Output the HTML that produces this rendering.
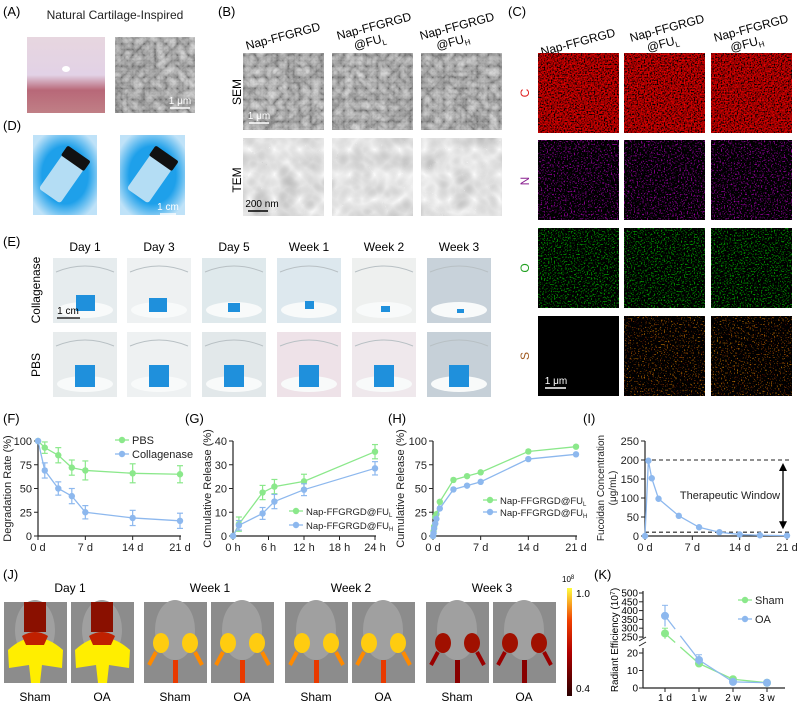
<!DOCTYPE html>
<html><head><meta charset="utf-8"><style>
html,body{margin:0;padding:0;background:#fff;}
svg{display:block;font-family:"Liberation Sans",Arial,sans-serif;}
</style></head><body>
<svg id="fig" width="797" height="705" viewBox="0 0 797 705" xmlns="http://www.w3.org/2000/svg">
<defs>
<filter id="semF" x="0" y="0" width="100%" height="100%"><feTurbulence type="turbulence" baseFrequency="0.09" numOctaves="3" seed="3"/><feColorMatrix type="matrix" values="0.33 0.33 0.33 0 0.1 0.33 0.33 0.33 0 0.1 0.33 0.33 0.33 0 0.1 0 0 0 0 1"/></filter>
<filter id="temF" x="0" y="0" width="100%" height="100%"><feTurbulence type="turbulence" baseFrequency="0.04" numOctaves="2" seed="7"/><feColorMatrix type="matrix" values="-0.25 -0.25 -0.25 0 0.95 -0.25 -0.25 -0.25 0 0.95 -0.25 -0.25 -0.25 0 0.95 0 0 0 0 1"/></filter>
<filter id="redF" x="0" y="0" width="100%" height="100%"><feTurbulence type="fractalNoise" baseFrequency="0.7" numOctaves="1" seed="2"/><feColorMatrix type="matrix" values="2.2 0 0 0 -0.75 0 0 0 0 0 0 0 0 0 0 0 0 0 0 1"/></filter>
<filter id="purF" x="0" y="0" width="100%" height="100%"><feTurbulence type="fractalNoise" baseFrequency="0.7" numOctaves="1" seed="4"/><feColorMatrix type="matrix" values="1.5 0 0 0 -0.85 0 0 0 0 0 1.6 0 0 0 -0.9 0 0 0 0 1"/></filter>
<filter id="grnF" x="0" y="0" width="100%" height="100%"><feTurbulence type="fractalNoise" baseFrequency="0.7" numOctaves="1" seed="5"/><feColorMatrix type="matrix" values="0 0 0 0 0 1.7 0 0 0 -0.95 0 0 0 0 0 0 0 0 0 1"/></filter>
<filter id="orF" x="0" y="0" width="100%" height="100%"><feTurbulence type="fractalNoise" baseFrequency="0.7" numOctaves="1" seed="6"/><feColorMatrix type="matrix" values="2.0 0 0 0 -1.18 1.0 0 0 0 -0.62 0 0 0 0 0 0 0 0 0 1"/></filter>
<linearGradient id="cart" x1="0" y1="0" x2="0" y2="1"><stop offset="0" stop-color="#e7d6df"/><stop offset="0.5" stop-color="#e2d2e6"/><stop offset="0.7" stop-color="#b86878"/><stop offset="1" stop-color="#c07f86"/></linearGradient>
<radialGradient id="vialbg" cx="0.5" cy="0.5" r="0.6"><stop offset="0.6" stop-color="#1ea0ea"/><stop offset="1" stop-color="#bfe2f8"/></radialGradient>
<linearGradient id="cbar" x1="0" y1="1" x2="0" y2="0"><stop offset="0" stop-color="#2a0000"/><stop offset="0.4" stop-color="#b00000"/><stop offset="0.7" stop-color="#f04000"/><stop offset="1" stop-color="#ffff40"/></linearGradient>
</defs>

<g>
<text x="3" y="16" font-size="13">(A)</text>
<text x="115" y="19" font-size="12" text-anchor="middle" fill="#222">Natural Cartilage-Inspired</text>
<rect x="27" y="37" width="78" height="76" fill="url(#cart)"/>
<ellipse cx="66" cy="69" rx="4" ry="3" fill="#fff"/>
<rect x="115" y="37" width="80" height="76" fill="#555" filter="url(#semF)"/>
<line x1="170" y1="108" x2="190" y2="108" stroke="#fff" stroke-width="1.5"/>
<text x="180" y="104" font-size="10" fill="#fff" text-anchor="middle">1 μm</text>
</g>

<g>
<text x="3" y="130" font-size="13">(D)</text>
<rect x="33" y="135" width="64" height="80" fill="url(#vialbg)"/>
<rect x="120" y="135" width="65" height="80" fill="url(#vialbg)"/>
<g transform="translate(62,178) rotate(35)"><rect x="-13" y="-20" width="26" height="42" rx="3" fill="#cfe8f6" opacity="0.85"/><rect x="-14" y="-30" width="28" height="12" rx="2" fill="#111"/></g>
<g transform="translate(150,178) rotate(35)"><rect x="-13" y="-20" width="26" height="42" rx="3" fill="#cfe8f6" opacity="0.85"/><rect x="-14" y="-30" width="28" height="12" rx="2" fill="#111"/></g>
<line x1="160" y1="214" x2="176" y2="214" stroke="#fff" stroke-width="1.5"/>
<text x="168" y="210" font-size="10" fill="#fff" text-anchor="middle">1 cm</text>
</g>

<g id="panelB">
<text x="218" y="16" font-size="13">(B)</text>
<text transform="translate(284,40) rotate(-15)" font-size="12" text-anchor="middle">Nap-FFGRGD</text>
<text transform="translate(375,30) rotate(-15)" font-size="12" text-anchor="middle">Nap-FFGRGD<tspan x="-8" dy="14">@FU</tspan><tspan font-size="8" dy="3">L</tspan></text>
<text transform="translate(458,30) rotate(-15)" font-size="12" text-anchor="middle">Nap-FFGRGD<tspan x="-8" dy="14">@FU</tspan><tspan font-size="8" dy="3">H</tspan></text>
<text transform="translate(241,92) rotate(-90)" font-size="12" text-anchor="middle">SEM</text>
<text transform="translate(241,180) rotate(-90)" font-size="12" text-anchor="middle">TEM</text>
</g>

<g id="panelC">
<text x="508" y="16" font-size="13">(C)</text>
<text transform="translate(579,46) rotate(-15)" font-size="12" text-anchor="middle">Nap-FFGRGD</text>
<text transform="translate(668,32) rotate(-15)" font-size="12" text-anchor="middle">Nap-FFGRGD<tspan x="-8" dy="14">@FU</tspan><tspan font-size="8" dy="3">L</tspan></text>
<text transform="translate(752,32) rotate(-15)" font-size="12" text-anchor="middle">Nap-FFGRGD<tspan x="-8" dy="14">@FU</tspan><tspan font-size="8" dy="3">H</tspan></text>
<text transform="translate(529,93) rotate(-90)" font-size="12" fill="#e02020" text-anchor="middle">C</text>
<text transform="translate(529,181) rotate(-90)" font-size="12" fill="#8a2090" text-anchor="middle">N</text>
<text transform="translate(529,268) rotate(-90)" font-size="12" fill="#20a020" text-anchor="middle">O</text>
<text transform="translate(529,356) rotate(-90)" font-size="12" fill="#a05a20" text-anchor="middle">S</text>
</g>

<g id="panelE">
<text x="3" y="246" font-size="13">(E)</text>
<text transform="translate(40,290) rotate(-90)" font-size="12" text-anchor="middle">Collagenase</text>
<text transform="translate(40,365) rotate(-90)" font-size="12" text-anchor="middle">PBS</text>
</g>

<g id="charts">
<text x="3" y="423" font-size="13">(F)</text>
<text x="185" y="423" font-size="13">(G)</text>
<text x="388" y="423" font-size="13">(H)</text>
<text x="583" y="423" font-size="13">(I)</text>
</g>

<g id="panelJ">
<text x="3" y="579" font-size="13">(J)</text>
<rect x="567" y="588" width="5" height="108" fill="url(#cbar)"/>
<text x="562" y="582" font-size="8">10<tspan font-size="6" dy="-3">8</tspan></text>
<text x="576" y="597" font-size="10">1.0</text>
<text x="576" y="692" font-size="10">0.4</text>
</g>

<g id="panelK">
<text x="594" y="579" font-size="13">(K)</text>
</g>
</svg>
<script>
const NS='http://www.w3.org/2000/svg';
const fig=document.getElementById('fig');
function mk(tag,attrs,parent){const e=document.createElementNS(NS,tag);for(const k in attrs)e.setAttribute(k,attrs[k]);(parent||fig).appendChild(e);return e;}

/* ---------- image panels ---------- */
const B=document.getElementById('panelB');
const bCols=[243,332,421];
bCols.forEach((x,i)=>{
  const s=mk('rect',{x:x,y:53,width:81,height:77,fill:'#666',filter:'url(#semF)'},B);
  
  
  const t=mk('rect',{x:x,y:138,width:81,height:78,fill:'#ddd',filter:'url(#temF)'},B);
  
  
});
mk('line',{x1:249,y1:123,x2:269,y2:123,stroke:'#fff','stroke-width':1.5},B);
mk('text',{x:259,y:119,'font-size':10,fill:'#fff','text-anchor':'middle'},B).textContent='1 μm';
mk('line',{x1:248,y1:211,x2:268,y2:211,stroke:'#000','stroke-width':1.5},B);
mk('text',{x:262,y:207,'font-size':10,fill:'#000','text-anchor':'middle'},B).textContent='200 nm';

const C=document.getElementById('panelC');
const cCols=[538,624,711];
const cRows=[53,140,228,316];
const cFilters=['redF','purF','grnF','orF'];
cRows.forEach((y,r)=>cCols.forEach((x,c)=>{
  mk('rect',{x:x,y:y,width:81,height:80,fill:'#000'},C);
  if(!(r===3&&c===0)){
    const m=mk('rect',{x:x,y:y,width:81,height:80,filter:'url(#'+cFilters[r]+')'},C);
    
    
  }
}));
mk('line',{x1:545,y1:388,x2:566,y2:388,stroke:'#fff','stroke-width':1.5},C);
mk('text',{x:556,y:384,'font-size':10,fill:'#fff','text-anchor':'middle'},C).textContent='1 μm';

const E=document.getElementById('panelE');
const eCols=[53,127,202,277,352,427];
const eDays=['Day 1','Day 3','Day 5','Week 1','Week 2','Week 3'];
const eBg=['#e6ecee','#eef1f2','#dfe9ec','#dde8ee','#eef0ef','#c8d2da'];
const eBg2=['#e8eced','#eef1f2','#e2e8ea','#eee2e8','#efe8ec','#c6d0d8'];
const colCube=[[23,37,19,16],[22,40,18,14],[26,45,12,9],[28,43,9,8],[29,48,9,6],[30,51,7,4]];
eCols.forEach((x,i)=>{
  const lab=mk('text',{x:x+32,y:251,'font-size':12,'text-anchor':'middle'},E);
  lab.textContent=eDays[i];
  
  
  [[258,eBg[i],colCube[i]],[332,eBg2[i],[22,33,20,22]]].forEach((row,j)=>{
    const y=row[0];
    const r=mk('rect',{x:x,y:y,width:64,height:65,fill:row[1]},E);
    
    
    mk('ellipse',{cx:x+32,cy:y+52,rx:28,ry:8,fill:'#f8fafa'},E);
    mk('path',{d:'M'+(x+3)+' '+(y+14)+' Q'+(x+32)+' '+(y+2)+' '+(x+61)+' '+(y+14),stroke:'#b8c0c4',fill:'none'},E);
    const cb=row[2];
    mk('rect',{x:x+cb[0],y:y+cb[1],width:cb[2],height:cb[3],fill:'#1f90dc'},E);
  });
});
mk('line',{x1:57,y1:318,x2:80,y2:318,stroke:'#000','stroke-width':1.2},E);
mk('text',{x:68,y:314,'font-size':10,'text-anchor':'middle'},E).textContent='1 cm';

const J=document.getElementById('panelJ');
const jImgs=[4,71,144,211,285,352,426,493];
const jTitles=['Day 1','Week 1','Week 2','Week 3'];
const jIntensity=[3,3,2,2,2,2,1,1];
jImgs.forEach((x,i)=>{
  const r=mk('rect',{x:x,y:602,width:63,height:81,fill:'#8c8c8c'},J);
  
  
  mk('ellipse',{cx:x+31,cy:630,rx:20,ry:30,fill:'#a0a0a0'},J);
  const k=jIntensity[i];
  if(k===3){
    mk('rect',{x:x+20,y:602,width:22,height:30,fill:'#8a1000'},J);
    mk('path',{d:`M${x+4} ${650} Q${x+31} ${625} ${x+59} ${650} L${x+58} ${668} L${x+38} ${665} L${x+36} 683 L${x+27} 683 L${x+25} 665 L${x+5} 668 Z`,fill:'#ffee00'},J);
    mk('path',{d:`M${x+18} 636 Q${x+31} 628 ${x+44} 636 L${x+40} 645 L${x+22} 645 Z`,fill:'#c02000'},J);
  } else {
    const col=k===2?'#ffcc10':'#a01000';
    mk('ellipse',{cx:x+17,cy:643,rx:8,ry:10,fill:col},J);
    mk('ellipse',{cx:x+46,cy:643,rx:8,ry:10,fill:col},J);
    mk('path',{d:`M${x+12} 652 L${x+5} 665 M${x+51} 652 L${x+58} 665`,stroke:k===2?'#ff8a00':'#900',  'stroke-width':4,fill:'none'},J);
    mk('rect',{x:x+29,y:660,width:5,height:23,fill:k===2?'#e83a00':'#800'},J);
  }
  const lab=mk('text',{x:x+31,y:701,'font-size':12,'text-anchor':'middle'},J);
  lab.textContent=i%2?'OA':'Sham';
  
  
  if(i%2===0){
    const t=mk('text',{x:x+66,y:592,'font-size':12,'text-anchor':'middle'},J);
    t.textContent=jTitles[i/2];
    
    
  }
});

/* ---------- chart data ---------- */
const F_days=[0,1,3,5,7,14,21];
const F_pbs=[100,93,85,72,69,66,65];
const F_pbsErr=[0,6,8,8,10,10,9];
const F_col=[100,69,50,42,25,19,16];
const F_colErr=[0,8,7,8,7,8,8];
const F_yticks=[0,25,50,75,100];
const F_xticks=[0,7,14,21];
const F_xlabels=['0 d','7 d','14 d','21 d'];

const G_hours=[0,1,5,7,12,24];
const G_L=[0,5,18.3,20.8,23,35.5];
const G_Lerr=[0,3,3,3,3,3];
const G_H=[0,4.5,9.5,14.5,19.5,28.5];
const G_Herr=[0,2,2.5,3,2.5,2.8];
const G_yticks=[0,10,20,30,40];
const G_xticks=[0,6,12,18,24];
const G_xlabels=['0 h','6 h','12 h','18 h','24 h'];

const H_days=[0,0.08,0.17,0.33,0.5,1,3,5,7,14,21];
const H_L=[0,5,10,20,23,36,59,63,67,89,94];
const H_H=[0,3,8,13,18,29,49,53,57,81,86];
const H_yticks=[0,25,50,75,100];
const H_xticks=[0,7,14,21];
const H_xlabels=['0 d','7 d','14 d','21 d'];

const I_days=[0,0.5,1,2,5,8,11,14,17,21];
const I_conc=[0,198,152,98,53,23,10,4,2,1];
const I_yticks=[0,50,100,150,200,250];
const I_xticks=[0,7,14,21];
const I_xlabels=['0 d','7 d','14 d','21 d'];
const I_window=[200,10];

const K_labels=['1 d','1 w','2 w','3 w'];
const K_sham=[270,14,5,3];
const K_shamErr=[30,2,1,0.5];
const K_oa=[370,16,3.5,3];
const K_oaErr=[60,3,1,0.5];

const GREEN='#8be88b', BLUE='#8db8ee';
const charts=document.getElementById('charts');

function axes(g,x0,x1,yTop,yBot,yticks,sy,xticks,sx,xlabels,title,titleX,name){
  const ya=mk('line',{x1:x0,y1:yTop,x2:x0,y2:yBot,stroke:'#222','stroke-width':1.2},g);
  
  
  const xa=mk('line',{x1:x0,y1:yBot,x2:x1,y2:yBot,stroke:'#222','stroke-width':1.2},g);
  
  
  yticks.forEach(v=>{
    const y=sy(v);
    mk('line',{x1:x0-4,y1:y,x2:x0,y2:y,stroke:'#222'},g);
    const t=mk('text',{x:x0-6,y:y+4,'font-size':11,'text-anchor':'end',fill:'#222'},g);
    t.textContent=v;
    
    
  });
  xticks.forEach((v,i)=>{
    const x=sx(v);
    mk('line',{x1:x,y1:yBot,x2:x,y2:yBot+4,stroke:'#222'},g);
    const t=mk('text',{x:x,y:yBot+15,'font-size':11,'text-anchor':'middle',fill:'#222'},g);
    t.textContent=xlabels[i];
    
    
  });
  if(title){
    const t=mk('text',{transform:`translate(${titleX},${(yTop+yBot)/2}) rotate(-90)`,'font-size':11,'text-anchor':'middle',fill:'#222'},g);
    t.textContent=title;
    
    
  }
}
function series(g,xs,ys,errs,sx,sy,color,name,r){
  const pts=xs.map((x,i)=>sx(x)+','+sy(ys[i])).join(' ');
  const pl=mk('polyline',{points:pts,fill:'none',stroke:color,'stroke-width':1.3},g);
  
  
  xs.forEach((x,i)=>{
    const cx=sx(x),cy=sy(ys[i]);
    if(errs&&errs[i]>0){
      const a=sy(ys[i]+errs[i]),b=sy(ys[i]-errs[i]);
      mk('line',{x1:cx,y1:a,x2:cx,y2:b,stroke:color,'stroke-width':1.2},g);
      mk('line',{x1:cx-3,y1:a,x2:cx+3,y2:a,stroke:color,'stroke-width':1.2},g);
      mk('line',{x1:cx-3,y1:b,x2:cx+3,y2:b,stroke:color,'stroke-width':1.2},g);
    }
    const c=mk('circle',{cx:cx,cy:cy,r:r||3.2,fill:color},g);
    
    
  });
}
function legend(g,x,y,color,label,sub,name,fs){
  mk('line',{x1:x-7,y1:y,x2:x+7,y2:y,stroke:color,'stroke-width':1.3},g);
  mk('circle',{cx:x,cy:y,r:3.2,fill:color},g);
  const t=mk('text',{x:x+10,y:y+4,'font-size':fs||11,fill:'#222'},g);
  t.textContent=label;
  if(sub){const s=mk('tspan',{'font-size':6,dy:2},t);s.textContent=sub;}
  
  
}

/* F */
{
  const g=mk('g',{},charts);
  
  
  const sx=d=>38+d/21*142, sy=v=>536-v/100*95;
  axes(g,38,181,441,536,F_yticks,sy,F_xticks,sx,F_xlabels,'Degradation Rate (%)',11,'f');
  series(g,F_days,F_pbs,F_pbsErr,sx,sy,GREEN,'pbs');
  series(g,F_days,F_col,F_colErr,sx,sy,BLUE,'collagenase');
  legend(g,122,440,GREEN,'PBS','','legend-pbs');
  legend(g,122,454,BLUE,'Collagenase','','legend-collagenase');
}
/* G */
{
  const g=mk('g',{},charts);
  
  
  const sx=h=>233+h/24*142, sy=v=>536-v/40*95;
  axes(g,233,376,441,536,G_yticks,sy,G_xticks,sx,G_xlabels,'Cumulative Release (%)',211,'g');
  series(g,G_hours,G_L,G_Lerr,sx,sy,GREEN,'fu-l');
  series(g,G_hours,G_H,G_Herr,sx,sy,BLUE,'fu-h');
  legend(g,296,511,GREEN,'Nap-FFGRGD@FU','L','legend-g-ful',9.5);
  legend(g,296,525,BLUE,'Nap-FFGRGD@FU','H','legend-g-fuh',9.5);
}
/* H */
{
  const g=mk('g',{},charts);
  
  
  const sx=d=>433+d/21*143, sy=v=>536-v/100*95;
  axes(g,433,577,441,536,H_yticks,sy,H_xticks,sx,H_xlabels,'Cumulative Release (%)',404,'h');
  series(g,H_days,H_L,null,sx,sy,GREEN,'h-fu-l');
  series(g,H_days,H_H,null,sx,sy,BLUE,'h-fu-h');
  legend(g,490,500,GREEN,'Nap-FFGRGD@FU','L','legend-h-ful',9.5);
  legend(g,490,512,BLUE,'Nap-FFGRGD@FU','H','legend-h-fuh',9.5);
}
/* I */
{
  const g=mk('g',{},charts);
  
  
  const sx=d=>645+d/21*142, sy=v=>536-v/250*95;
  axes(g,645,788,441,536,I_yticks,sy,I_xticks,sx,I_xlabels,'',0,'i');
  const t1=mk('text',{transform:`translate(604,488) rotate(-90)`,'font-size':10,'text-anchor':'middle',fill:'#222'},g);
  t1.textContent='Fucoidan Concentration';
  
  
  const t2=mk('text',{transform:`translate(616,488) rotate(-90)`,'font-size':10,'text-anchor':'middle',fill:'#222'},g);
  t2.textContent='(μg/mL)';
  
  
  I_window.forEach(v=>{
    const l=mk('line',{x1:645,y1:sy(v),x2:790,y2:sy(v),stroke:'#222','stroke-dasharray':'4,3','stroke-width':1.1},g);
    
    
  });
  const ax=783, ya=sy(I_window[0])+3, yb=sy(I_window[1])-3;
  mk('line',{x1:ax,y1:ya+6,x2:ax,y2:yb-6,stroke:'#000','stroke-width':1.3},g);
  mk('path',{d:`M${ax} ${ya} L${ax-4} ${ya+8} L${ax+4} ${ya+8} Z M${ax} ${yb} L${ax-4} ${yb-8} L${ax+4} ${yb-8} Z`,fill:'#000'},g);
  const tw=mk('text',{x:730,y:499,'font-size':11,'text-anchor':'middle',fill:'#222'},g);
  tw.textContent='Therapeutic Window';
  
  
  series(g,I_days,I_conc,null,sx,sy,BLUE,'fucoidan');
}
/* K */
{
  const g=document.getElementById('panelK');
  const x0=643, xs=i=>665+i*34;
  const syT=v=>637-(v-250)/250*44;
  const syB=v=>688-v/20*35;
  const syK=v=>v>=200?syT(v):syB(v);
  mk('line',{x1:x0,y1:591,x2:x0,y2:638,stroke:'#222','stroke-width':1.2},g);
  mk('line',{x1:x0,y1:648,x2:x0,y2:688,stroke:'#222','stroke-width':1.2},g);
  mk('line',{x1:x0-4,y1:641,x2:x0+3,y2:637,stroke:'#222'},g);
  mk('line',{x1:x0-4,y1:646,x2:x0+3,y2:642,stroke:'#222'},g);
  mk('line',{x1:x0,y1:688,x2:785,y2:688,stroke:'#222','stroke-width':1.2},g);
  [250,300,350,400,450,500].forEach(v=>{
    mk('line',{x1:x0-4,y1:syT(v),x2:x0,y2:syT(v),stroke:'#222'},g);
    const t=mk('text',{x:x0-5,y:syT(v)+3.5,'font-size':10,'text-anchor':'end'},g);
    t.textContent=v;
    
    
  });
  [0,10,20].forEach(v=>{
    mk('line',{x1:x0-4,y1:syB(v),x2:x0,y2:syB(v),stroke:'#222'},g);
    const t=mk('text',{x:x0-5,y:syB(v)+3.5,'font-size':10,'text-anchor':'end'},g);
    t.textContent=v;
    
    
  });
  K_labels.forEach((l,i)=>{
    mk('line',{x1:xs(i),y1:688,x2:xs(i),y2:692,stroke:'#222'},g);
    const t=mk('text',{x:xs(i),y:701,'font-size':10,'text-anchor':'middle'},g);
    t.textContent=l;
    
    
  });
  const yt=mk('text',{transform:'translate(618,640) rotate(-90)','font-size':10,'text-anchor':'middle'},g);
  yt.textContent='Radiant Efficiency (10';
  const sp=mk('tspan',{'font-size':7,dy:-3},yt);sp.textContent='7';
  const sp2=mk('tspan',{dy:3},yt);sp2.textContent=')';
  
  
  [[K_sham,K_shamErr,GREEN,'sham'],[K_oa,K_oaErr,BLUE,'oa']].forEach(s=>{
    const [vals,errs,col,nm]=s;
    const p0=[xs(0),syK(vals[0])], p1=[xs(1),syK(vals[1])];
    mk('line',{x1:p0[0],y1:p0[1],x2:p0[0]+(p1[0]-p0[0])*0.3,y2:p0[1]+(p1[1]-p0[1])*0.3,stroke:col,'stroke-width':1.3},g);
    mk('line',{x1:p0[0]+(p1[0]-p0[0])*0.45,y1:p0[1]+(p1[1]-p0[1])*0.45,x2:p1[0],y2:p1[1],stroke:col,'stroke-width':1.3},g);
    const pts=vals.slice(1).map((v,i)=>xs(i+1)+','+syK(v)).join(' ');
    const pl=mk('polyline',{points:pts,fill:'none',stroke:col,'stroke-width':1.3},g);
    
    
    vals.forEach((v,i)=>{
      const cx=xs(i), a=syK(v+errs[i]), b=syK(v-errs[i]);
      mk('line',{x1:cx,y1:a,x2:cx,y2:b,stroke:col,'stroke-width':1.2},g);
      mk('line',{x1:cx-3,y1:a,x2:cx+3,y2:a,stroke:col},g);
      const c=mk('circle',{cx:cx,cy:syK(v),r:4,fill:col},g);
      
      
    });
  });
  legend(g,745,600,GREEN,'Sham','','legend-sham');
  legend(g,745,619,BLUE,'OA','','legend-oa');
}
</script>
</body></html>
